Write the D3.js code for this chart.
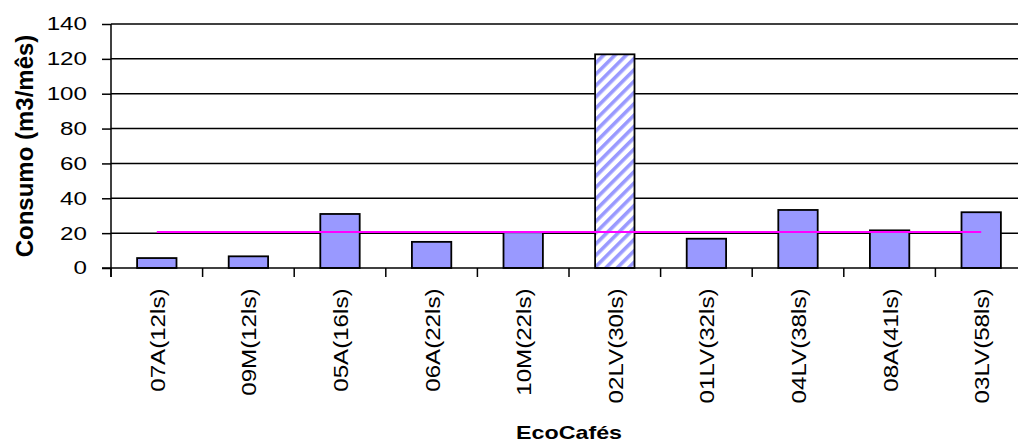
<!DOCTYPE html>
<html>
<head>
<meta charset="utf-8">
<script src="https://cdn.jsdelivr.net/npm/d3@7"></script>
<style>
  body { margin: 0; background: #fff; }
  svg { display: block; }
  svg text { font-family: "Liberation Sans", Arial, sans-serif; fill: #000; }
</style>
</head>
<body>
<div id="chart"></div>
<script>
// data
var categories = ["07A(12ls)", "09M(12ls)", "05A(16ls)", "06A(22ls)", "10M(22ls)",
                  "02LV(30ls)", "01LV(32ls)", "04LV(38ls)", "08A(41ls)", "03LV(58ls)"];
var consumo = [5.7, 6.7, 31, 15, 20.5, 122.6, 16.8, 33.3, 21.6, 32];
var hatched = ["02LV(30ls)"];
var refValue = 20.6;
var yTicks = [0, 20, 40, 60, 80, 100, 120, 140];

var width = 1018, height = 444;
var margin = {left: 111, top: 24, right: -9, bottom: 176};

var svg = d3.select("#chart").append("svg")
  .attr("width", width)
  .attr("height", height);

// diagonal stripe pattern for the highlighted bar
var pat = svg.append("defs").append("pattern")
  .attr("id", "stripes")
  .attr("patternUnits", "userSpaceOnUse")
  .attr("width", 8)
  .attr("height", 8)
  .attr("patternTransform", "rotate(45)");
pat.append("rect").attr("width", 8).attr("height", 8).attr("fill", "#fff");
pat.append("rect").attr("width", 3.6).attr("height", 8).attr("fill", "#9999ff");

var x = d3.scaleBand()
  .domain(categories)
  .range([margin.left, width - margin.right])
  .paddingInner(0.57)
  .paddingOuter(0.285);

var y = d3.scaleLinear()
  .domain([0, 140])
  .range([height - margin.bottom, margin.top]);

// gridlines
svg.append("g")
  .selectAll("line")
  .data(yTicks.slice(1))
  .enter()
  .append("line")
  .attr("x1", margin.left)
  .attr("x2", width - margin.right)
  .attr("y1", function(d) { return y(d); })
  .attr("y2", function(d) { return y(d); })
  .attr("stroke", "#000")
  .attr("stroke-width", 1.5);

// bars
svg.append("g")
  .selectAll("rect")
  .data(categories)
  .enter()
  .append("rect")
  .attr("x", function(d) { return x(d); })
  .attr("y", function(d, i) { return y(consumo[i]); })
  .attr("width", x.bandwidth())
  .attr("height", function(d, i) { return y(0) - y(consumo[i]); })
  .attr("fill", function(d) { return hatched.indexOf(d) >= 0 ? "url(#stripes)" : "#9999ff"; })
  .attr("stroke", "#000")
  .attr("stroke-width", 1.8);

// reference line
var half = x.bandwidth() / 2;
svg.append("line")
  .attr("x1", x(categories[0]) + half)
  .attr("x2", x(categories[categories.length - 1]) + half)
  .attr("y1", y(refValue))
  .attr("y2", y(refValue))
  .attr("stroke", "#ff00ff")
  .attr("stroke-width", 2);

// y axis (labels are drawn wider than plain Arial, hence the scale)
var yk = 1.3;
var yAxis = d3.axisLeft(y).tickValues(yTicks).tickSize(9).tickPadding(15);
var gy = svg.append("g")
  .attr("transform", "translate(" + margin.left + ",0)")
  .attr("font-family", null)
  .call(yAxis);
gy.selectAll("text")
  .style("font-size", "18.6px")
  .attr("x", -24 / yk)
  .attr("transform", "scale(" + yk + ",1)");
gy.selectAll("line, path").attr("stroke", "#000").attr("stroke-width", 1.5);
gy.select(".domain").attr("d", "M0," + (y(0) + 9) + "V" + margin.top);

// x axis with ticks between categories
var xAxisG = svg.append("g");
xAxisG.append("line")
  .attr("x1", margin.left - 9).attr("x2", width - margin.right)
  .attr("y1", y(0)).attr("y2", y(0))
  .attr("stroke", "#000").attr("stroke-width", 1.5);
xAxisG.selectAll(".tk")
  .data(categories)
  .enter()
  .append("line")
  .attr("class", "tk")
  .attr("x1", function(d) { return x(d) - x.step() * x.paddingInner() / 2; })
  .attr("x2", function(d) { return x(d) - x.step() * x.paddingInner() / 2; })
  .attr("y1", y(0))
  .attr("y2", y(0) + 9)
  .attr("stroke", "#000")
  .attr("stroke-width", 1.5);

xAxisG.selectAll("text")
  .data(categories)
  .enter()
  .append("text")
  .attr("transform", function(d) {
    return "translate(" + (x(d) + half + 8) + "," + (y(0) + 20.5) + ") rotate(-90) scale(1.15,1)";
  })
  .attr("text-anchor", "end")
  .style("font-size", "21px")
  .text(function(d) { return d; });

// axis titles
svg.append("text")
  .attr("transform", "translate(33," + ((y(0) + margin.top) / 2) + ") rotate(-90)")
  .attr("text-anchor", "middle")
  .style("font-size", "24px")
  .style("font-weight", "bold")
  .text("Consumo (m3/mês)");

svg.append("text")
  .attr("transform", "translate(" + ((margin.left + width - margin.right) / 2) + ",438.5) scale(1.33,1)")
  .attr("text-anchor", "middle")
  .style("font-size", "17.5px")
  .style("font-weight", "bold")
  .text("EcoCafés");
</script>
</body>
</html>
